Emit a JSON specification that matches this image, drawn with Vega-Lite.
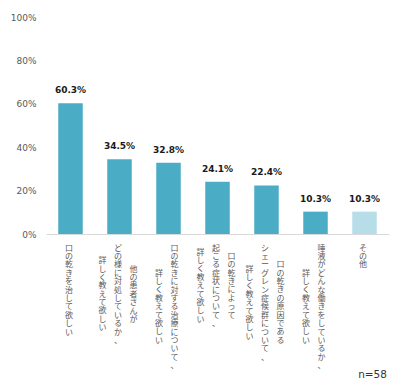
{
  "$schema": "https://vega.github.io/schema/vega-lite/v6.json",
  "width": 343,
  "height": 217,
  "autosize": {"type": "none"},
  "padding": {"left": 46, "top": 17, "right": 16, "bottom": 155},
  "background": "white",
  "view": {"stroke": null},
  "config": {
    "text": {
      "font": "Noto Sans CJK JP",
      "fontSize": 8,
      "color": "#595959",
      "baseline": "top",
      "align": "center",
      "lineBreak": "\n",
      "lineHeight": 8.4
    }
  },
  "title": {
    "text": "n=58",
    "orient": "bottom",
    "anchor": "end",
    "offset": 0,
    "dx": -2,
    "font": "DejaVu Sans",
    "fontSize": 10.5,
    "fontWeight": "normal",
    "color": "#333333"
  },
  "datasets": {
    "items": [
      {"item": "口の乾きを治して欲しい", "share": 0.603},
      {"item": "他の患者さんがどの様に対処しているか、詳しく教えて欲しい", "share": 0.345},
      {"item": "口の乾きに対する治療について、詳しく教えて欲しい", "share": 0.328},
      {"item": "口の乾きによって起こる症状について、詳しく教えて欲しい", "share": 0.241},
      {"item": "口の乾きの原因であるシェーグレン症候群について、詳しく教えて欲しい", "share": 0.224},
      {"item": "唾液がどんな働きをしているか、詳しく教えて欲しい", "share": 0.103},
      {"item": "その他", "share": 0.103}
    ],
    "labels": [
      {"item": "口の乾きを治して欲しい", "lines": 1, "line": 1, "text": "口\nの\n乾\nき\nを\n治\nし\nて\n欲\nし\nい"},
      {"item": "他の患者さんがどの様に対処しているか、詳しく教えて欲しい", "lines": 3, "line": 1, "text": "他\nの\n患\n者\nさ\nん\nが"},
      {"item": "他の患者さんがどの様に対処しているか、詳しく教えて欲しい", "lines": 3, "line": 2, "text": "ど\nの\n様\nに\n対\n処\nし\nて\nい\nる\nか\n、"},
      {"item": "他の患者さんがどの様に対処しているか、詳しく教えて欲しい", "lines": 3, "line": 3, "text": "詳\nし\nく\n教\nえ\nて\n欲\nし\nい"},
      {"item": "口の乾きに対する治療について、詳しく教えて欲しい", "lines": 2, "line": 1, "text": "口\nの\n乾\nき\nに\n対\nす\nる\n治\n療\nに\nつ\nい\nて\n、"},
      {"item": "口の乾きに対する治療について、詳しく教えて欲しい", "lines": 2, "line": 2, "text": "詳\nし\nく\n教\nえ\nて\n欲\nし\nい"},
      {"item": "口の乾きによって起こる症状について、詳しく教えて欲しい", "lines": 3, "line": 1, "text": "口\nの\n乾\nき\nに\nよ\nっ\nて"},
      {"item": "口の乾きによって起こる症状について、詳しく教えて欲しい", "lines": 3, "line": 2, "text": "起\nこ\nる\n症\n状\nに\nつ\nい\nて\n、"},
      {"item": "口の乾きによって起こる症状について、詳しく教えて欲しい", "lines": 3, "line": 3, "text": "詳\nし\nく\n教\nえ\nて\n欲\nし\nい"},
      {"item": "口の乾きの原因であるシェーグレン症候群について、詳しく教えて欲しい", "lines": 3, "line": 1, "text": "口\nの\n乾\nき\nの\n原\n因\nで\nあ\nる"},
      {"item": "口の乾きの原因であるシェーグレン症候群について、詳しく教えて欲しい", "lines": 3, "line": 2, "text": "シ\nェ\nー\nグ\nレ\nン\n症\n候\n群\nに\nつ\nい\nて\n、"},
      {"item": "口の乾きの原因であるシェーグレン症候群について、詳しく教えて欲しい", "lines": 3, "line": 3, "text": "詳\nし\nく\n教\nえ\nて\n欲\nし\nい"},
      {"item": "唾液がどんな働きをしているか、詳しく教えて欲しい", "lines": 2, "line": 1, "text": "唾\n液\nが\nど\nん\nな\n働\nき\nを\nし\nて\nい\nる\nか\n、"},
      {"item": "唾液がどんな働きをしているか、詳しく教えて欲しい", "lines": 2, "line": 2, "text": "詳\nし\nく\n教\nえ\nて\n欲\nし\nい"},
      {"item": "その他", "lines": 1, "line": 1, "text": "そ\nの\n他"}
    ]
  },
  "encoding": {
    "x": {
      "field": "item",
      "type": "nominal",
      "sort": null,
      "scale": {
        "domain": [
          "口の乾きを治して欲しい",
          "他の患者さんがどの様に対処しているか、詳しく教えて欲しい",
          "口の乾きに対する治療について、詳しく教えて欲しい",
          "口の乾きによって起こる症状について、詳しく教えて欲しい",
          "口の乾きの原因であるシェーグレン症候群について、詳しく教えて欲しい",
          "唾液がどんな働きをしているか、詳しく教えて欲しい",
          "その他"
        ],
        "paddingInner": 0.5,
        "paddingOuter": 0.25
      },
      "axis": {
        "title": null,
        "labels": false,
        "ticks": false,
        "domain": true,
        "domainColor": "#d9d9d9",
        "domainWidth": 1
      }
    }
  },
  "layer": [
    {
      "data": {"name": "items"},
      "mark": {"type": "bar"},
      "encoding": {
        "y": {
          "field": "share",
          "type": "quantitative",
          "scale": {"domain": [0, 1]},
          "axis": {
            "title": null,
            "values": [0, 0.2, 0.4, 0.6, 0.8, 1],
            "format": ".0%",
            "grid": false,
            "domain": false,
            "ticks": false,
            "labelPadding": 10,
            "labelFont": "DejaVu Sans",
            "labelFontSize": 9,
            "labelColor": "#595959"
          }
        },
        "color": {
          "condition": {"test": "datum.item === 'その他'", "value": "#b7dee8"},
          "value": "#4bacc6"
        }
      }
    },
    {
      "data": {"name": "items"},
      "mark": {
        "type": "text",
        "baseline": "bottom",
        "dy": -8,
        "font": "DejaVu Sans",
        "fontSize": 9,
        "fontWeight": "bold",
        "color": "#1a1a1a"
      },
      "encoding": {
        "y": {"field": "share", "type": "quantitative"},
        "text": {"field": "share", "type": "quantitative", "format": ".1%"}
      }
    },
    {
      "data": {"name": "labels"},
      "transform": [{"filter": "datum.lines === 1 || (datum.lines === 3 && datum.line === 2)"}],
      "mark": {"type": "text", "dx": -1.5, "dy": 10.5},
      "encoding": {"y": {"datum": 0, "type": "quantitative"}, "text": {"field": "text", "type": "nominal"}}
    },
    {
      "data": {"name": "labels"},
      "transform": [{"filter": "datum.lines === 2 && datum.line === 1"}],
      "mark": {"type": "text", "dx": 6, "dy": 10.5},
      "encoding": {"y": {"datum": 0, "type": "quantitative"}, "text": {"field": "text", "type": "nominal"}}
    },
    {
      "data": {"name": "labels"},
      "transform": [{"filter": "datum.lines === 2 && datum.line === 2"}],
      "mark": {"type": "text", "dx": -9.5, "dy": 35.7},
      "encoding": {"y": {"datum": 0, "type": "quantitative"}, "text": {"field": "text", "type": "nominal"}}
    },
    {
      "data": {"name": "labels"},
      "transform": [{"filter": "indexof(datum.item, '他の患者') === 0 && datum.line === 1"}],
      "mark": {"type": "text", "dx": 14, "dy": 31.5},
      "encoding": {"y": {"datum": 0, "type": "quantitative"}, "text": {"field": "text", "type": "nominal"}}
    },
    {
      "data": {"name": "labels"},
      "transform": [{"filter": "indexof(datum.item, '他の患者') === 0 && datum.line === 3"}],
      "mark": {"type": "text", "dx": -17, "dy": 23.1},
      "encoding": {"y": {"datum": 0, "type": "quantitative"}, "text": {"field": "text", "type": "nominal"}}
    },
    {
      "data": {"name": "labels"},
      "transform": [{"filter": "indexof(datum.item, '口の乾きによって') === 0 && datum.line === 1"}],
      "mark": {"type": "text", "dx": 14, "dy": 18.9},
      "encoding": {"y": {"datum": 0, "type": "quantitative"}, "text": {"field": "text", "type": "nominal"}}
    },
    {
      "data": {"name": "labels"},
      "transform": [{"filter": "indexof(datum.item, '口の乾きによって') === 0 && datum.line === 3"}],
      "mark": {"type": "text", "dx": -17, "dy": 14.7},
      "encoding": {"y": {"datum": 0, "type": "quantitative"}, "text": {"field": "text", "type": "nominal"}}
    },
    {
      "data": {"name": "labels"},
      "transform": [{"filter": "indexof(datum.item, '口の乾きの原因') === 0 && datum.line === 1"}],
      "mark": {"type": "text", "dx": 14, "dy": 27.3},
      "encoding": {"y": {"datum": 0, "type": "quantitative"}, "text": {"field": "text", "type": "nominal"}}
    },
    {
      "data": {"name": "labels"},
      "transform": [{"filter": "indexof(datum.item, '口の乾きの原因') === 0 && datum.line === 3"}],
      "mark": {"type": "text", "dx": -17, "dy": 31.5},
      "encoding": {"y": {"datum": 0, "type": "quantitative"}, "text": {"field": "text", "type": "nominal"}}
    }
  ]
}
